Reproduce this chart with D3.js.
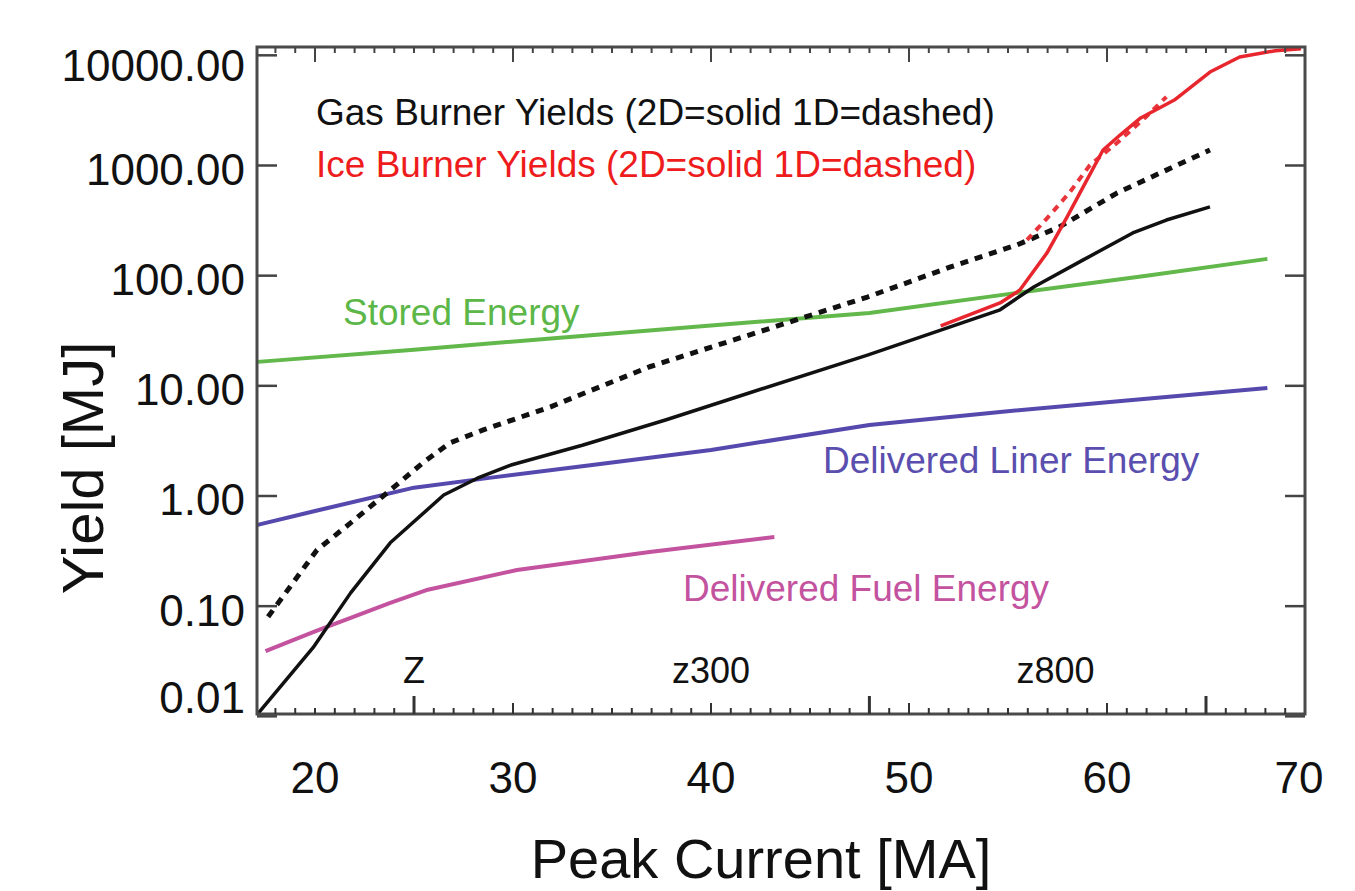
<!DOCTYPE html>
<html>
<head>
<meta charset="utf-8">
<script src="https://cdn.jsdelivr.net/npm/d3@7"></script>
<style>
  body { margin: 0; background: #fff; }
  svg text { font-family: "Liberation Sans", Arimo, Arial, Roboto, sans-serif; }
</style>
</head>
<body>
<svg id="chart" width="1355" height="891"></svg>
<script>
// ejes
const xTicks = [20, 30, 40, 50, 60, 70];
const yTicks = [0.01, 0.1, 1, 10, 100, 1000, 10000];
const machineTicks = [25, 48, 65];
const machineNames = ['Z', 'z300', 'z800'];
const machineLabelX = [25, 40, 57.4];

// Stored Energy
const storedX = [17.1, 25, 33, 40, 48, 55, 62, 68.1];
const storedY = [16.5, 21.3, 27.9, 35.2, 45.9, 68, 100, 142];

// Delivered Liner Energy
const linerX = [17.1, 20, 25, 28.8, 34, 40, 48, 54.6, 61, 68.1];
const linerY = [0.547, 0.73, 1.19, 1.46, 1.91, 2.62, 4.41, 5.8, 7.35, 9.57];

// Delivered Fuel Energy
const fuelX = [17.5, 20, 23.8, 25.7, 30.2, 36.9, 43.2];
const fuelY = [0.039, 0.059, 0.107, 0.141, 0.213, 0.31, 0.425];

// Gas burner 2D (solid) y 1D (dashed)
const gas2dX = [17.12, 19.9, 21.8, 23.8, 26.5, 28.2, 29.9, 33.5, 37.7, 42, 47.9, 54.6, 56.3, 58.8, 61.3, 63, 65.2];
const gas2dY = [0.0106, 0.042, 0.132, 0.376, 1.02, 1.45, 1.91, 2.89, 4.9, 8.7, 19, 49, 79, 139, 244, 320, 421];
const gas1dX = [17.63, 20.1, 21.8, 23.8, 25.45, 26.8, 28.5, 31.9, 36.9, 42, 47.9, 52.1, 55.45, 57.6, 60.5, 63, 65.2];
const gas1dY = [0.08, 0.324, 0.57, 1.13, 2.0, 3.03, 3.98, 6.45, 14.9, 29.2, 64, 120, 190, 277, 562, 908, 1383];

// Ice burner 2D (solid) y 1D (dashed)
const ice2dX = [51.6, 54.6, 55.6, 56.97, 57.98, 58.79, 59.8, 60.66, 61.7, 63.4, 65.2, 66.7, 68.5, 69.8];
const ice2dY = [35, 56.5, 74, 161, 340, 637, 1383, 1890, 2700, 3925, 7050, 9660, 11000, 11500];
const ice1dX = [55.96, 57.12, 58.13, 59.14, 60.5, 62, 63.0];
const ice1dY = [211, 355, 575, 1010, 1600, 2800, 4200];

const margin = { top: 47, right: 50, bottom: 177, left: 257 };
const width = 1355 - margin.left - margin.right;
const height = 891 - margin.top - margin.bottom;

const svg = d3.select('#chart');
const g = svg.append('g').attr('transform', `translate(${margin.left},${margin.top})`);

const x = d3.scaleLinear().domain([17.07, 70]).range([0, width]);
const y = d3.scaleLog().domain([0.0105, 11900]).range([height, 0]);

// recorte del area del grafico
svg.append('defs').append('clipPath').attr('id', 'clip')
  .append('rect').attr('width', width).attr('height', height);

const line = d3.line().x(d => x(d[0])).y(d => y(d[1]));
const zip = (xs, ys) => xs.map((v, i) => [v, ys[i]]);

const plot = g.append('g').attr('clip-path', 'url(#clip)');

const series = [
  { data: zip(storedX, storedY), color: '#62b84a', w: 4, dash: null },
  { data: zip(linerX, linerY), color: '#5549ad', w: 4, dash: null },
  { data: zip(fuelX, fuelY), color: '#c4539f', w: 4, dash: null },
  { data: zip(gas1dX, gas1dY), color: '#111', w: 5, dash: '8,7' },
  { data: zip(gas2dX, gas2dY), color: '#111', w: 3.5, dash: null },
  { data: zip(ice1dX, ice1dY), color: '#e8343a', w: 4, dash: '7,6' },
  { data: zip(ice2dX, ice2dY), color: '#e8262e', w: 3.5, dash: null },
];

series.forEach(s => {
  plot.append('path')
    .datum(s.data)
    .attr('d', line)
    .attr('fill', 'none')
    .attr('stroke', s.color)
    .attr('stroke-width', s.w)
    .attr('stroke-dasharray', s.dash)
    .attr('stroke-linejoin', 'round');
});

// marco
g.append('rect')
  .attr('width', width).attr('height', height)
  .attr('fill', 'none').attr('stroke', '#4a4a4a').attr('stroke-width', 3);

// marcas menores cada 1 MA arriba y abajo
const minor = d3.range(18, 70);
g.selectAll('.tb').data(minor).enter().append('line')
  .attr('x1', d => x(d)).attr('x2', d => x(d))
  .attr('y1', height)
  .attr('y2', d => height - (machineTicks.includes(d) ? 18 : (d % 10 === 0 && d !== 20 ? 11 : 6)))
  .attr('stroke', '#333').attr('stroke-width', d => machineTicks.includes(d) ? 3 : 2);
g.selectAll('.tt').data(minor).enter().append('line')
  .attr('x1', d => x(d)).attr('x2', d => x(d))
  .attr('y1', 0)
  .attr('y2', d => (d % 10 === 0 ? 15 : 6))
  .attr('stroke', '#444').attr('stroke-width', 2);

// marcas de decada a izquierda y derecha
g.selectAll('.tl').data(yTicks).enter().append('line')
  .attr('x1', 0).attr('x2', 20)
  .attr('y1', d => y(d)).attr('y2', d => y(d))
  .attr('stroke', '#444').attr('stroke-width', 2.5);
g.selectAll('.tr').data(yTicks).enter().append('line')
  .attr('x1', width).attr('x2', width - 20)
  .attr('y1', d => y(d)).attr('y2', d => y(d))
  .attr('stroke', '#444').attr('stroke-width', 2.5);

// etiquetas del eje y
g.selectAll('.yl').data(yTicks).enter().append('text')
  .attr('x', -12)
  .attr('y', d => Math.max(18, Math.min(650, y(d) + 4)))
  .attr('text-anchor', 'end')
  .attr('dominant-baseline', 'central')
  .attr('font-size', 44)
  .attr('fill', '#111')
  .text(d => d3.format('.2f')(d));

// etiquetas del eje x
g.selectAll('.xl').data(xTicks).enter().append('text')
  .attr('x', d => Math.min(x(d), width - 6))
  .attr('y', height + 79)
  .attr('text-anchor', 'middle')
  .attr('font-size', 44)
  .attr('fill', '#111')
  .text(d => d);

// nombres de maquinas
g.selectAll('.ml').data(machineNames).enter().append('text')
  .attr('x', (d, i) => x(machineLabelX[i]))
  .attr('y', height - 31)
  .attr('text-anchor', 'middle')
  .attr('font-size', 36)
  .attr('fill', '#111')
  .text(d => d);

// titulos
svg.append('text')
  .attr('x', 761).attr('y', 878)
  .attr('text-anchor', 'middle')
  .attr('font-size', 56)
  .attr('fill', '#111')
  .text('Peak Current [MA]');

svg.append('text')
  .attr('transform', 'translate(103,468) rotate(-90)')
  .attr('text-anchor', 'middle')
  .attr('font-size', 58)
  .attr('fill', '#111')
  .text('Yield [MJ]');

// anotaciones
const notes = [
  { t: 'Gas Burner Yields (2D=solid 1D=dashed)', x: 316, y: 125, c: '#111' },
  { t: 'Ice Burner Yields (2D=solid 1D=dashed)', x: 316, y: 177, c: '#ee1c1c' },
  { t: 'Stored Energy', x: 343, y: 325, c: '#5cb748' },
  { t: 'Delivered Liner Energy', x: 823, y: 473, c: '#5a4fae' },
  { t: 'Delivered Fuel Energy', x: 683, y: 601, c: '#c4539f' },
];
svg.selectAll('.note').data(notes).enter().append('text')
  .attr('x', d => d.x).attr('y', d => d.y)
  .attr('font-size', 37)
  .attr('fill', d => d.c)
  .text(d => d.t);
</script>
</body>
</html>
